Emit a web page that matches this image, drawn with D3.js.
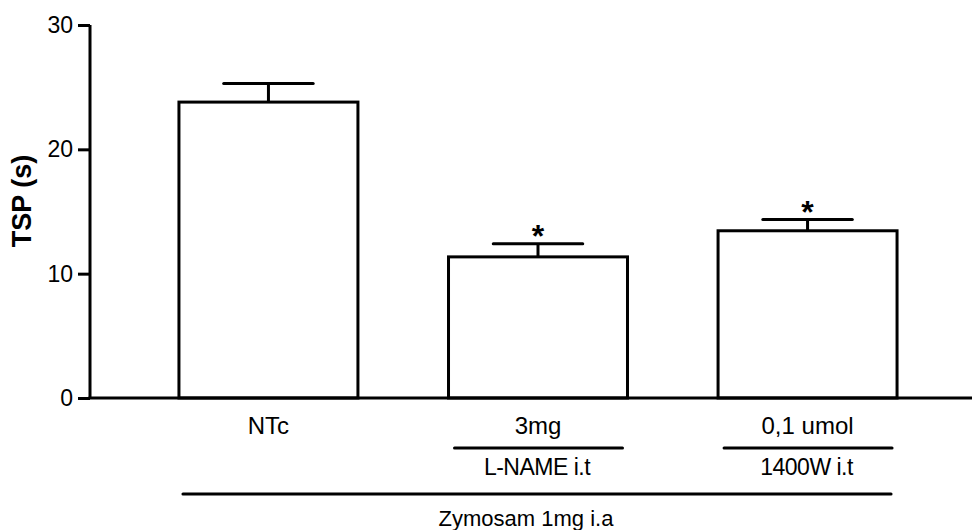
<!DOCTYPE html>
<html>
<head>
<meta charset="utf-8">
<script src="https://cdn.jsdelivr.net/npm/d3@7"></script>
<style>
  body { margin: 0; background: #fff; }
  svg { display: block; font-family: "Liberation Sans", Arial, sans-serif; }
</style>
</head>
<body>
<div id="chart"></div>
<script>
const groups = ["NTc", "3mg", "0,1 umol"];
const means = [23.8, 11.35, 13.45];
const sems = [1.5, 1.05, 0.9];
const significant = [false, true, true];
const yTicks = [0, 10, 20, 30];
const treatments = [
    { label: "L-NAME i.t", group: "3mg" },
    { label: "1400W i.t", group: "0,1 umol" }
];
const outerLabel = "Zymosam 1mg i.a";

const width = 972;
const height = 530;
const margin = { left: 90, top: 25, bottom: 132 };

const svg = d3.create("svg")
    .attr("width", width)
    .attr("height", height);

const x = d3.scaleBand()
    .domain(groups)
    .range([margin.left, 986])
    .paddingInner(0.336)
    .paddingOuter(0.33);

const y = d3.scaleLinear()
    .domain([0, 30])
    .range([height - margin.bottom, margin.top]);

const bw = x.bandwidth();

// bars
svg.append("g")
    .selectAll("rect")
    .data(groups)
    .join("rect")
    .attr("x", d => x(d))
    .attr("y", (d, i) => y(means[i]))
    .attr("width", bw)
    .attr("height", (d, i) => y(0) - y(means[i]))
    .attr("fill", "#fff")
    .attr("stroke", "#000")
    .attr("stroke-width", 3);

// error bars (upper only)
const err = svg.append("g").attr("stroke", "#000").attr("stroke-width", 3);
groups.forEach((g, i) => {
    const cx = x(g) + bw / 2;
    err.append("line")
        .attr("x1", cx).attr("x2", cx)
        .attr("y1", y(means[i])).attr("y2", y(means[i] + sems[i]));
    err.append("line")
        .attr("x1", cx - bw / 4).attr("x2", cx + bw / 4)
        .attr("y1", y(means[i] + sems[i])).attr("y2", y(means[i] + sems[i]))
        .attr("stroke-linecap", "round");
});

// asterisks
svg.append("g")
    .selectAll("text")
    .data(groups.filter((g, i) => significant[i]))
    .join("text")
    .attr("x", d => x(d) + bw / 2)
    .attr("y", d => { const i = groups.indexOf(d); return y(means[i] + sems[i]) + 3; })
    .attr("text-anchor", "middle")
    .attr("font-size", 32)
    .attr("font-weight", "bold")
    .text("*");

// y axis
const yAxis = svg.append("g")
    .attr("transform", `translate(${margin.left},0)`)
    .call(d3.axisLeft(y).tickValues(yTicks).tickSize(12).tickPadding(5).tickFormat(d3.format("d")));
yAxis.select(".domain").attr("stroke-width", 3).attr("d", `M0,${y(30)}V${y(0)}`);
yAxis.selectAll(".tick line").attr("stroke-width", 3);
yAxis.selectAll(".tick text")
    .attr("font-size", 23)
    .attr("font-family", "Liberation Sans, Arial, sans-serif")
    .attr("fill", "#000");

// x baseline
svg.append("line")
    .attr("x1", margin.left - 1.5).attr("x2", width)
    .attr("y1", y(0)).attr("y2", y(0))
    .attr("stroke", "#000").attr("stroke-width", 3);

// y title
svg.append("text")
    .attr("transform", `translate(31,201) rotate(-90)`)
    .attr("text-anchor", "middle")
    .attr("font-size", 27)
    .attr("font-weight", "bold")
    .text("TSP (s)");

// group labels
svg.append("g")
    .selectAll("text")
    .data(groups)
    .join("text")
    .attr("x", d => x(d) + bw / 2)
    .attr("y", 434)
    .attr("text-anchor", "middle")
    .attr("font-size", 24)
    .text(d => d);

// treatment brackets
treatments.forEach(t => {
    svg.append("line")
        .attr("x1", x(t.group) + 6).attr("x2", x(t.group) + bw - 5)
        .attr("y1", 448).attr("y2", 448)
        .attr("stroke", "#000").attr("stroke-width", 3)
        .attr("stroke-linecap", "round");
    svg.append("text")
        .attr("x", x(t.group) + bw / 2 - 1)
        .attr("y", 475)
        .attr("text-anchor", "middle")
        .attr("font-size", 23)
        .attr("letter-spacing", -0.5)
        .text(t.label);
});

// outer bracket
svg.append("line")
    .attr("x1", x(groups[0]) + 4).attr("x2", x(groups[2]) + bw - 6)
    .attr("y1", 494).attr("y2", 494)
    .attr("stroke", "#000").attr("stroke-width", 3)
    .attr("stroke-linecap", "round");
svg.append("text")
    .attr("x", 526)
    .attr("y", 526)
    .attr("text-anchor", "middle")
    .attr("font-size", 22)
    .text(outerLabel);

d3.select("#chart").node().append(svg.node());
</script>
</body>
</html>
